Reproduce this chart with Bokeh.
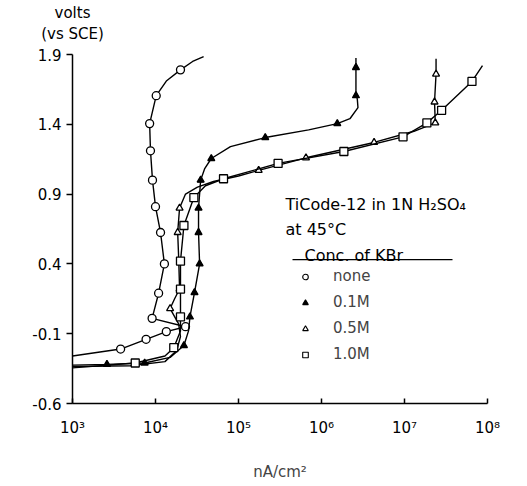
from bokeh.plotting import figure
from bokeh.models import FixedTicker, Label, Legend, LegendItem, BoxAnnotation, LinearAxis
from bokeh.embed import file_html
from bokeh.resources import INLINE

FONT = "DejaVu Sans"

# ---------------- data (current density nA/cm2, potential V vs SCE) ----------------
# none (open circles)
none_line_i = [1.0e3, 3.8e3, 7.7e3, 1.35e4, 2.3e4, 9.1e3, 1.09e4, 1.28e4, 1.15e4, 1.0e4,
               9.2e3, 8.7e3, 8.5e3, 1.02e4, 1.35e4, 2.0e4, 2.8e4, 3.8e4]
none_line_v = [-0.26, -0.21, -0.14, -0.085, -0.05, 0.01, 0.19, 0.40, 0.625, 0.81,
               1.0, 1.21, 1.405, 1.605, 1.71, 1.79, 1.85, 1.885]
none_pt_i = [3.8e3, 7.7e3, 1.35e4, 2.3e4, 9.1e3, 1.09e4, 1.28e4, 1.15e4, 1.0e4,
             9.2e3, 8.7e3, 8.5e3, 1.02e4, 2.0e4]
none_pt_v = [-0.21, -0.14, -0.085, -0.05, 0.01, 0.19, 0.40, 0.625, 0.81,
             1.0, 1.21, 1.405, 1.605, 1.79]

# 0.1M KBr (filled triangles)
m01_line_i = [1.0e3, 2.6e3, 7.4e3, 1.5e4, 2.2e4, 2.5e4, 2.6e4, 2.95e4, 3.4e4, 3.3e4, 3.3e4,
              3.5e4, 3.9e4, 4.7e4, 8.0e4, 2.1e5, 7.0e5, 1.55e6, 2.2e6, 2.75e6, 2.7e6,
              2.6e6, 2.6e6, 2.6e6]
m01_line_v = [-0.325, -0.32, -0.31, -0.27, -0.185, -0.08, 0.02, 0.195, 0.40, 0.625, 0.80,
              1.0, 1.08, 1.155, 1.24, 1.305, 1.36, 1.405, 1.44, 1.52, 1.58,
              1.62, 1.807, 1.875]
m01_pt_i = [2.6e3, 7.4e3, 2.2e4, 2.6e4, 2.95e4, 3.4e4, 3.3e4, 3.3e4, 3.5e4, 4.7e4,
            2.1e5, 1.55e6, 2.6e6, 2.6e6]
m01_pt_v = [-0.32, -0.31, -0.185, 0.02, 0.195, 0.40, 0.625, 0.80, 1.0, 1.155,
            1.305, 1.405, 1.605, 1.807]

# 0.5M KBr (open triangles)
m05_line_i = [1.0e3, 5.0e3, 1.3e4, 1.8e4, 2.0e4, 1.9e4, 1.5e4, 1.7e4, 1.95e4, 1.9e4, 1.85e4,
              1.95e4, 2.3e4, 3.2e4, 5.0e4, 1.0e5, 1.75e5, 6.5e5, 4.3e6, 1.3e7, 2.35e7,
              2.3e7, 2.4e7, 2.4e7]
m05_line_v = [-0.335, -0.33, -0.30, -0.22, -0.12, -0.03, 0.08, 0.15, 0.22, 0.45, 0.625,
              0.80, 0.90, 0.95, 0.99, 1.03, 1.07, 1.16, 1.27, 1.35, 1.41,
              1.56, 1.76, 1.87]
m05_pt_i = [1.5e4, 1.95e4, 1.85e4, 1.95e4, 1.75e5, 6.5e5, 4.3e6, 2.35e7, 2.3e7, 2.4e7]
m05_pt_v = [0.08, 0.22, 0.625, 0.80, 1.07, 1.16, 1.27, 1.41, 1.56, 1.76]

# 1.0M KBr (open squares)
m10_line_i = [1.0e3, 5.7e3, 1.3e4, 1.66e4, 2.0e4, 2.0e4, 2.0e4, 2.0e4, 2.2e4, 2.9e4, 4.0e4,
              6.6e4, 3.0e5, 1.86e6, 9.6e6, 1.86e7, 2.8e7, 6.5e7, 8.7e7]
m10_line_v = [-0.345, -0.31, -0.26, -0.20, -0.08, 0.02, 0.22, 0.42, 0.675, 0.875, 0.96,
              1.01, 1.12, 1.205, 1.31, 1.41, 1.50, 1.707, 1.82]
m10_pt_i = [5.7e3, 1.66e4, 2.0e4, 2.0e4, 2.0e4, 2.2e4, 2.9e4, 6.6e4, 3.0e5, 1.86e6,
            9.6e6, 1.86e7, 2.8e7, 6.5e7]
m10_pt_v = [-0.31, -0.20, 0.02, 0.22, 0.42, 0.675, 0.875, 1.01, 1.12, 1.205,
            1.31, 1.41, 1.50, 1.707]

x_ticks = [1e3, 1e4, 1e5, 1e6, 1e7, 1e8]
x_tick_labels = ["10³", "10⁴", "10⁵", "10⁶", "10⁷", "10⁸"]
y_ticks = [-0.6, -0.1, 0.4, 0.9, 1.4, 1.9]
y_tick_labels = ["-0.6", "-0.1", "0.4", "0.9", "1.4", "1.9"]
y_caption = ["(vs SCE)", "volts"]
legend_labels = ["none", "0.1M", "0.5M", "1.0M"]


# helpers: page pixel -> data coordinate (for text placement only)
def X(px):
    return 10 ** (3 + (px - 72) / 83.0)


def Y(py):
    return -0.6 + (403 - py) / 139.6


p = figure(x_axis_type="log", x_range=(1e3, 1e8), y_range=(-0.6, 1.9),
           frame_width=415, frame_height=349,
           min_border_left=72, min_border_right=32, min_border_top=54, min_border_bottom=76,
           output_backend="svg", toolbar_location=None)
p.outline_line_color = None
p.grid.visible = False
p.background_fill_color = "white"
p.border_fill_color = "white"

# axes
p.xaxis.ticker = FixedTicker(ticks=x_ticks, minor_ticks=[])
p.xaxis.major_label_overrides = {int(t): s for t, s in zip(x_ticks, x_tick_labels)}
p.yaxis.ticker = FixedTicker(ticks=y_ticks, minor_ticks=[])
p.yaxis.major_label_overrides = {t: s for t, s in zip(y_ticks, y_tick_labels)}
for ax in (p.xaxis, p.yaxis):
    ax.axis_line_width = 1.5
    ax.axis_line_color = "black"
    ax.major_tick_line_width = 1.5
    ax.major_tick_line_color = "black"
    ax.minor_tick_line_color = None
    ax.major_label_text_font = FONT
    ax.major_label_text_color = "black"
p.xaxis.major_label_text_font_size = "15px"
p.yaxis.major_label_text_font_size = "15px"
p.xaxis.major_tick_in = 5
p.xaxis.major_tick_out = 0
p.xaxis.major_label_standoff = 15
p.yaxis.major_tick_in = 0
p.yaxis.major_tick_out = 6
p.yaxis.major_label_standoff = 5
p.xaxis.axis_label = "nA/cm²"
p.xaxis.axis_label_text_font = FONT
p.xaxis.axis_label_text_font_size = "15px"
p.xaxis.axis_label_text_font_style = "normal"
p.xaxis.axis_label_standoff = 23

# y-axis caption above the axis: two label-only axes stacked above the frame
for cap, so in zip(y_caption, [12, 0]):
    cap_ax = LinearAxis(ticker=FixedTicker(ticks=[x_ticks[0]], minor_ticks=[]),
                        major_label_overrides={int(x_ticks[0]): cap},
                        axis_line_color=None, major_tick_line_color=None,
                        minor_tick_line_color=None, major_tick_in=0, major_tick_out=0,
                        major_label_standoff=so, major_label_text_font=FONT,
                        major_label_text_font_size="15px", major_label_text_color="black")
    p.add_layout(cap_ax, "above")

LW = 1.4
series = [
    (none_line_i, none_line_v, none_pt_i, none_pt_v, "circle", "white", 8),
    (m01_line_i, m01_line_v, m01_pt_i, m01_pt_v, "triangle", "black", 7),
    (m05_line_i, m05_line_v, m05_pt_i, m05_pt_v, "triangle", "white", 7),
    (m10_line_i, m10_line_v, m10_pt_i, m10_pt_v, "square", "white", 8),
]
legend_items = []
for (li, lv, pi, pv, mk, fc, sz), lab in zip(series, legend_labels):
    p.line(li, lv, line_color="black", line_width=LW)
    # small copy of the markers (hidden under the real ones) used for the legend key
    r_leg = p.scatter(pi, pv, marker=mk, size=5, fill_color=fc, line_color="black", line_width=1.1)
    p.scatter(pi, pv, marker=mk, size=sz, fill_color=fc, line_color="black", line_width=1.3)
    legend_items.append(LegendItem(label=lab, renderers=[r_leg]))

legend = Legend(items=legend_items, location=(226, 40), border_line_color=None,
                background_fill_alpha=0, padding=0, margin=0,
                label_text_font=FONT, label_text_font_size="15px",
                glyph_width=14, glyph_height=17, label_height=17, spacing=8,
                label_standoff=21)
p.add_layout(legend, "center")


# texts
def add_text(txt, px, py, align="left", size="16px"):
    p.add_layout(Label(x=X(px), y=Y(py), text=txt, text_font=FONT, text_font_size=size,
                       text_align=align, text_baseline="alphabetic", text_color="black"))


add_text("TiCode-12 in 1N H₂SO₄", 285, 204)
add_text("at 45°C", 285, 229)
add_text("Conc. of KBr", 304, 255)
p.add_layout(BoxAnnotation(left=X(292), right=X(452), bottom=Y(259.8), top=Y(258.4),
                           fill_color="black", fill_alpha=1, line_color=None))

open("out.html", "w").write(file_html(p, INLINE))
